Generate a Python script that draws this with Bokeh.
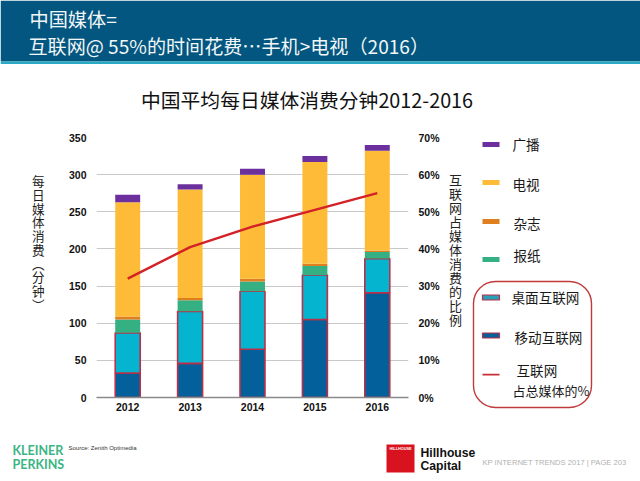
from bokeh.plotting import figure
from bokeh.layouts import column, row
from bokeh.models import (ColumnDataSource, FactorRange, Range1d, LinearAxis, FixedTicker,
                          PrintfTickFormatter, Label, BoxAnnotation)
from bokeh.embed import file_html
from bokeh.resources import INLINE

years = ["2012", "2013", "2014", "2015", "2016"]
mobile = [33, 46, 65, 105, 141]
desktop = [54, 70, 78, 60, 46]
newspaper = [18, 15, 13, 12, 9]
magazine = [4, 3, 4, 3, 2]
tv = [154, 146, 140, 137, 134]
radio = [10, 7, 8, 8, 8]
internet_share = [32, 40.5, 46, 50.5, 55]
left_ticks = [0, 50, 100, 150, 200, 250, 300, 350]
right_ticks = [0, 10, 20, 30, 40, 50, 60, 70]

series_names = ["mobile", "desktop", "newspaper", "magazine", "tv", "radio"]
series_colors = ["#04609a", "#05b4cf", "#35b083", "#e07f20", "#fdbb38", "#6c2f9e"]
OUTLINE = "#b8304a"

header_lines = ["中国媒体=", "互联网@ 55%的时间花费…手机>电视（2016）"]
chart_title = "中国平均每日媒体消费分钟2012-2016"
left_title = "每日媒体消费︵分钟︶"
right_title = "互联网占媒体消费的比例"

CJK = "Noto Sans CJK SC"
SANS = "Liberation Sans"

# Page is split into panels; every panel maps picture pixels 1:1.
def panel(x0, y0, x1, y1):
    f = figure(width=x1 - x0, height=y1 - y0, x_range=Range1d(x0, x1), y_range=Range1d(y1, y0),
               output_backend="svg", toolbar_location=None, outline_line_color=None,
               min_border=0, min_border_left=0, min_border_right=0, min_border_top=0, min_border_bottom=0,
               background_fill_color="white", border_fill_color="white")
    f.axis.visible = False
    f.grid.visible = False
    return f

def text(f, s, x, y, size, color="#111111", font=CJK, style="normal", align="left", **kw):
    # CJK font metrics sit about 2px low with a middle baseline
    yy = y - 2 if font == CJK else y
    f.add_layout(Label(x=x, y=yy, text=s, text_font=font, text_font_size=f"{size}px",
                       text_font_style=style, text_color=color, text_align=align,
                       text_baseline="middle", **kw))

def box(f, x0, y0, x1, y1, fill, line=None, lw=0, radius=0):
    f.add_layout(BoxAnnotation(left=x0, right=x1, top=y0, bottom=y1,
                               fill_color=fill, fill_alpha=1 if fill else 0, line_color=line,
                               line_alpha=1, line_width=lw, border_radius=radius, editable=False))

# ---- top panel
top = panel(0, 0, 640, 125)
box(top, 0, 0, 640, 61, "#02567f")
box(top, 0, 61, 640, 63.5, "#2aa9c4")
text(top, header_lines[0], 29, 20.5, 19.2, "#f2f6f8")
text(top, header_lines[1], 28, 47.5, 19.1, "#f2f6f8")
text(top, chart_title, 140.5, 101, 19.8, "#111111")

# ---- main chart
p = figure(width=385, height=291, x_range=FactorRange(factors=years), y_range=Range1d(0, 350),
           output_backend="svg", toolbar_location=None, background_fill_color="white",
           border_fill_color="white", outline_line_color=None,
           min_border_left=36, min_border_right=37, min_border_top=12, min_border_bottom=19)
p.extra_y_ranges = {"share": Range1d(0, 70)}

source = ColumnDataSource(dict(year=years, mobile=mobile, desktop=desktop, newspaper=newspaper,
                               magazine=magazine, tv=tv, radio=radio, share=internet_share))
stack = p.vbar_stack(series_names, x="year", width=0.4, source=source, color=series_colors)
for r, name in zip(stack, series_names):
    if name in ("mobile", "desktop"):
        r.glyph.line_color = OUTLINE
        r.glyph.line_width = 1.6
    else:
        r.glyph.line_width = 0
p.line("year", "share", source=source, y_range_name="share", line_color="#d42027", line_width=2.4)

p.xgrid.visible = False
p.ygrid.ticker = FixedTicker(ticks=left_ticks)
p.ygrid.grid_line_color = "#c9c9c9"
p.ygrid.grid_line_width = 1

ax = p.yaxis[0]
ax.ticker = FixedTicker(ticks=left_ticks)
ax.axis_line_color = None
ax.major_tick_line_color = None
ax.minor_tick_line_color = None
ax.major_tick_out = 0
ax.major_tick_in = 0
ax.major_label_text_font = SANS
ax.major_label_text_font_style = "bold"
ax.major_label_text_font_size = "10.5px"
ax.major_label_text_color = "#111111"
ax.major_label_standoff = 10

ar = LinearAxis(y_range_name="share", ticker=FixedTicker(ticks=right_ticks),
                formatter=PrintfTickFormatter(format="%d%%"),
                axis_line_color=None, major_tick_line_color=None, minor_tick_line_color=None,
                major_tick_out=0, major_tick_in=0,
                major_label_text_font=SANS, major_label_text_font_style="bold",
                major_label_text_font_size="10.5px", major_label_text_color="#111111",
                major_label_standoff=10)
p.add_layout(ar, "right")

bx = p.xaxis[0]
bx.axis_line_color = "#8a8a8a"
bx.axis_line_width = 1.5
bx.major_tick_line_color = None
bx.minor_tick_line_color = None
bx.major_tick_out = 0
bx.major_tick_in = 0
bx.major_label_text_font = SANS
bx.major_label_text_font_style = "bold"
bx.major_label_text_font_size = "10.5px"
bx.major_label_text_color = "#111111"
bx.major_label_standoff = 5

# ---- left panel (axis title)
lf = panel(0, 125, 60, 416)
text(lf, "\n".join(left_title), 31.5, 244, 12.6, "#222222", text_line_height=0.72)

# ---- right panel (axis title + legend)
rt = panel(445, 125, 640, 416)
text(rt, "\n".join(right_title), 448.5, 251, 13, "#222222", text_line_height=0.737)
box(rt, 473, 281, 591, 407, None, "#c0393b", 1.4, radius=22)
legend_rows = [("广播", 144, 512, 145, "#6c2f9e", None), ("电视", 182, 512, 185, "#fdbb38", None),
               ("杂志", 221, 513, 224, "#e07f20", None), ("报纸", 259, 513, 256, "#35b083", None),
               ("桌面互联网", 297, 511, 298, "#2a9fb8", OUTLINE), ("移动互联网", 335, 514, 338, "#04609a", OUTLINE)]
for label, sy, tx, ty, col, ln in legend_rows:
    box(rt, 482, sy - 2.5, 499, sy + 2.5, col, ln, 1.2 if ln else 0)
    text(rt, label, tx, ty, 13.6, "#1a1a1a")
box(rt, 482, 373.2, 499, 375, "#c62f35")
text(rt, "互联网", 516, 371, 13.6, "#1a1a1a")
text(rt, "占总媒体的%", 512, 392, 13, "#1a1a1a")

# ---- footer panel
ft = panel(0, 416, 640, 481)
text(ft, "KLEINER", 12, 450, 12.5, "#3cb585", "Lato", "bold")
text(ft, "PERKINS", 12, 464, 12.5, "#3cb585", "Lato", "bold")
text(ft, "Source: Zenith Optimedia", 68, 447, 6, "#333333", SANS)
box(ft, 386, 444, 414, 472, "#d9121f")
text(ft, "HILLHOUSE", 400, 448.5, 3.8, "#ffffff", SANS, "bold", "center")
text(ft, "Hillhouse", 420, 452, 12.2, "#111111", SANS, "bold")
text(ft, "Capital", 420, 465, 12.2, "#111111", SANS, "bold")
text(ft, "KP INTERNET TRENDS 2017   |   PAGE 203", 482, 462, 7.6, "#b0b0b0", SANS)

page = column(top, row(column(lf), column(p), column(rt), spacing=0), ft, spacing=0)
open("out.html", "w").write(file_html(page, INLINE))
